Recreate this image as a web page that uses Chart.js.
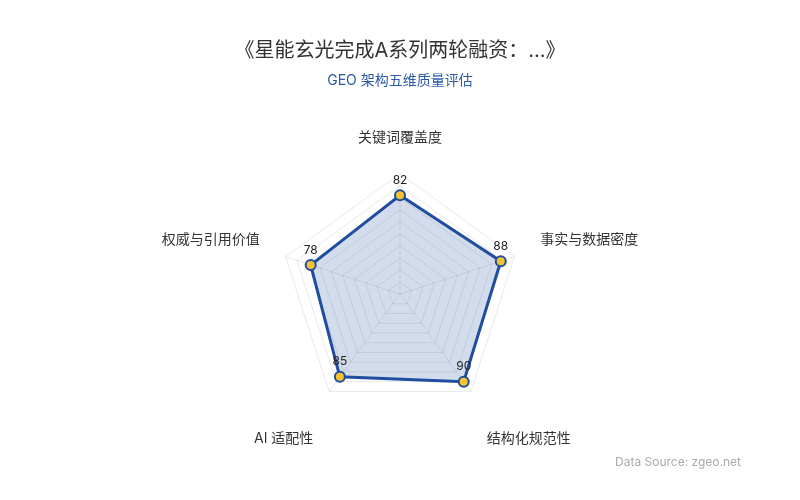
<!DOCTYPE html>
<html>
<head>
<meta charset="utf-8">
<script src="https://cdn.jsdelivr.net/npm/chart.js@4.4.1/dist/chart.umd.min.js"></script>
<style>
  html, body { margin: 0; padding: 0; background: #fff; }
  #wrap { position: relative; width: 800px; height: 500px; }
  #source {
    position: absolute; right: 59px; top: 454px;
    font: 12px Inter, "Noto Sans CJK SC", sans-serif; color: #aaa;
  }
</style>
</head>
<body>
<div id="wrap">
  <canvas id="radar" width="800" height="500"></canvas>
  <div id="source">Data Source: zgeo.net</div>
</div>
<script>
const dimensions = ['关键词覆盖度', '事实与数据密度', '结构化规范性', 'AI 适配性', '权威与引用价值'];
const scores = [82, 88, 90, 85, 78];
const maxScore = 100;

const fontFamily = 'Inter, "Noto Sans CJK SC", sans-serif';

// numbers above each point
const valueLabels = {
  id: 'valueLabels',
  afterDatasetsDraw(chart) {
    const ctx = chart.ctx;
    const meta = chart.getDatasetMeta(0);
    ctx.save();
    ctx.font = '12px ' + fontFamily;
    ctx.fillStyle = '#222';
    ctx.textAlign = 'center';
    ctx.textBaseline = 'middle';
    meta.data.forEach(function(pt, i) {
      ctx.fillText(String(scores[i]), pt.x, pt.y - 15);
    });
    ctx.restore();
  }
};

const ctx = document.getElementById('radar');
new Chart(ctx, {
  type: 'radar',
  data: {
    labels: dimensions,
    datasets: [{
      data: scores,
      borderColor: '#1f4ea0',
      borderWidth: 3,
      backgroundColor: 'rgba(31, 78, 160, 0.2)',
      fill: true,
      pointRadius: 5,
      pointHoverRadius: 5,
      pointBackgroundColor: '#f4c430',
      pointBorderColor: '#1f4ea0',
      pointBorderWidth: 2
    }]
  },
  options: {
    responsive: false,
    animation: false,
    layout: {
      padding: { top: 0, bottom: 48, left: 120, right: 120 }
    },
    scales: {
      r: {
        min: 0,
        max: maxScore,
        ticks: { display: false, stepSize: 10 },
        grid: { color: 'rgba(0, 0, 0, 0.09)', lineWidth: 1 },
        angleLines: { color: 'rgba(0, 0, 0, 0.09)' },
        pointLabels: {
          padding: 27,
          color: '#333',
          font: { size: 14, family: fontFamily },
          callback: function(label, index) {
            // bottom labels sit one line lower
            return (index === 2 || index === 3) ? ['', label] : label;
          }
        }
      }
    },
    plugins: {
      legend: { display: false },
      tooltip: { enabled: false },
      title: {
        display: true,
        text: '《星能玄光完成A系列两轮融资：...》',
        color: '#333',
        font: { size: 20, weight: 'normal', family: fontFamily },
        padding: { top: 39, bottom: 9 }
      },
      subtitle: {
        display: true,
        text: 'GEO 架构五维质量评估',
        color: '#2a5aa8',
        font: { size: 14, weight: 'normal', family: fontFamily },
        padding: { top: 0, bottom: 34 }
      }
    }
  },
  plugins: [valueLabels]
});
</script>
</body>
</html>
